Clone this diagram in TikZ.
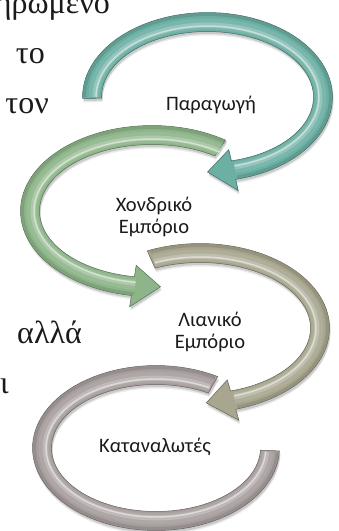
\documentclass[tikz,border=0pt]{standalone}
\usepackage{fontspec}
\setmainfont{Liberation Serif}
\newfontfamily\labelfont{Carlito}
\usepackage{xcolor}
\usepackage{tikz}
\definecolor{arTeal}{HTML}{6CAFA3}
\definecolor{arGreen}{HTML}{8DB589}
\definecolor{arOlive}{HTML}{A8A68F}
\definecolor{arMauve}{HTML}{A89E9E}
\definecolor{arInk}{HTML}{1A1A1A}
\usetikzlibrary{calc}

% band with an arrow head: centre, radii, start angle, base of head, tip
\newcommand{\headband}[7]{%
  plot[domain=#5:#6,samples=70] ({#1+(#3+9.5)*cos(\x)},{#2+(#4+9.5)*sin(\x)})
  -- ({#1+(#3+21)*cos(#6)},{#2+(#4+21)*sin(#6)})
  -- ({#1+#3*cos(#7)},{#2+#4*sin(#7)})
  -- ({#1+(#3-21)*cos(#6)},{#2+(#4-21)*sin(#6)})
  -- plot[domain=#6:#5,samples=70] ({#1+(#3-9.5)*cos(\x)},{#2+(#4-9.5)*sin(\x)})
  -- cycle}
% plain band: centre, radii, start and end angle
\newcommand{\plainband}[6]{%
  plot[domain=#5:#6,samples=80] ({#1+(#3+9.5)*cos(\x)},{#2+(#4+9.5)*sin(\x)})
  -- plot[domain=#6:#5,samples=80] ({#1+(#3-9.5)*cos(\x)},{#2+(#4-9.5)*sin(\x)})
  -- cycle}
% soft bevel along the band: centre, radii, from, to, colour
\newcommand{\bevel}[7]{%
  \draw[#7!70!black, line width=3, opacity=0.35]
    plot[domain=#5:#6,samples=70] ({#1+(#3+7.5)*cos(\x)},{#2+(#4+7.5)*sin(\x)});
  \draw[#7!80!white, line width=11, opacity=0.45]
    plot[domain=#5:#6,samples=70] ({#1+(#3-2)*cos(\x)},{#2+(#4-2)*sin(\x)});
  \draw[#7!55!white, line width=5, opacity=0.55]
    plot[domain=#5:#6,samples=70] ({#1+(#3-3)*cos(\x)},{#2+(#4-3)*sin(\x)});
  \draw[#7!25!white, line width=1.5, opacity=0.7]
    plot[domain=#5:#6,samples=70] ({#1+(#3-4)*cos(\x)},{#2+(#4-4)*sin(\x)});
}

\begin{document}
\begin{tikzpicture}[x=1pt,y=-1pt,
    lbl/.style={font=\labelfont\fontsize{20.5}{22}\selectfont, text=arInk, align=center, inner sep=0pt},
    txt/.style={font=\fontsize{32}{36}\selectfont, text=arInk, inner sep=0pt, anchor=base east}]
  \useasboundingbox (0,0) rectangle (339,531);
  \clip (0,0) rectangle (339,531);

  % text of the slide behind, cut by the left edge
  \node[txt] (w1) at (110,13) {ηρωμένο};
  \node[txt] (w2) at (45,63) {το};
  \node[txt] (w3) at (49,113) {τον};
  \node[txt] (w4) at (82,343) {αλλά};
  \node[txt] (w5) at (9,393) {και};

  \foreach \cx/\cy/\rx/\ry/\ts/\tb/\tt/\col in {207.5/97/115.5/75/179/437/450/arTeal,
      152/211/122/76/304/99/86/arGreen,
      200/328/120/75/246/434/447/arOlive} {
    \fill[black, opacity=0.08, shift={(1,4)}] \headband{\cx}{\cy}{\rx}{\ry}{\ts}{\tb}{\tt};
    \fill[black, opacity=0.14, shift={(1,2.5)}] \headband{\cx}{\cy}{\rx}{\ry}{\ts}{\tb}{\tt};
    \filldraw[fill=\col, draw=\col!60!black, line width=0.5] \headband{\cx}{\cy}{\rx}{\ry}{\ts}{\tb}{\tt};
    \bevel{\cx}{\cy}{\rx}{\ry}{\ts+1}{\tb-1}{\col}
  }

  \fill[black, opacity=0.08, shift={(1,4)}] \plainband{156}{448}{114}{73}{300}{2};
  \fill[black, opacity=0.14, shift={(1,2.5)}] \plainband{156}{448}{114}{73}{300}{2};
  \filldraw[fill=arMauve, draw=arMauve!60!black, line width=0.5] \plainband{156}{448}{114}{73}{300}{2};
  \bevel{156}{448}{114}{73}{299}{3}{arMauve}

  \node[lbl] (prod) at (211,105) {Παραγωγή};
  \node[lbl] (whole) at (154,217) {Χονδρικό\\Εμπόριο};
  \node[lbl] (retail) at (210,332) {Λιανικό\\Εμπόριο};
  \node[lbl] (cons) at (155,447) {Καταναλωτές};
\end{tikzpicture}
\end{document}
